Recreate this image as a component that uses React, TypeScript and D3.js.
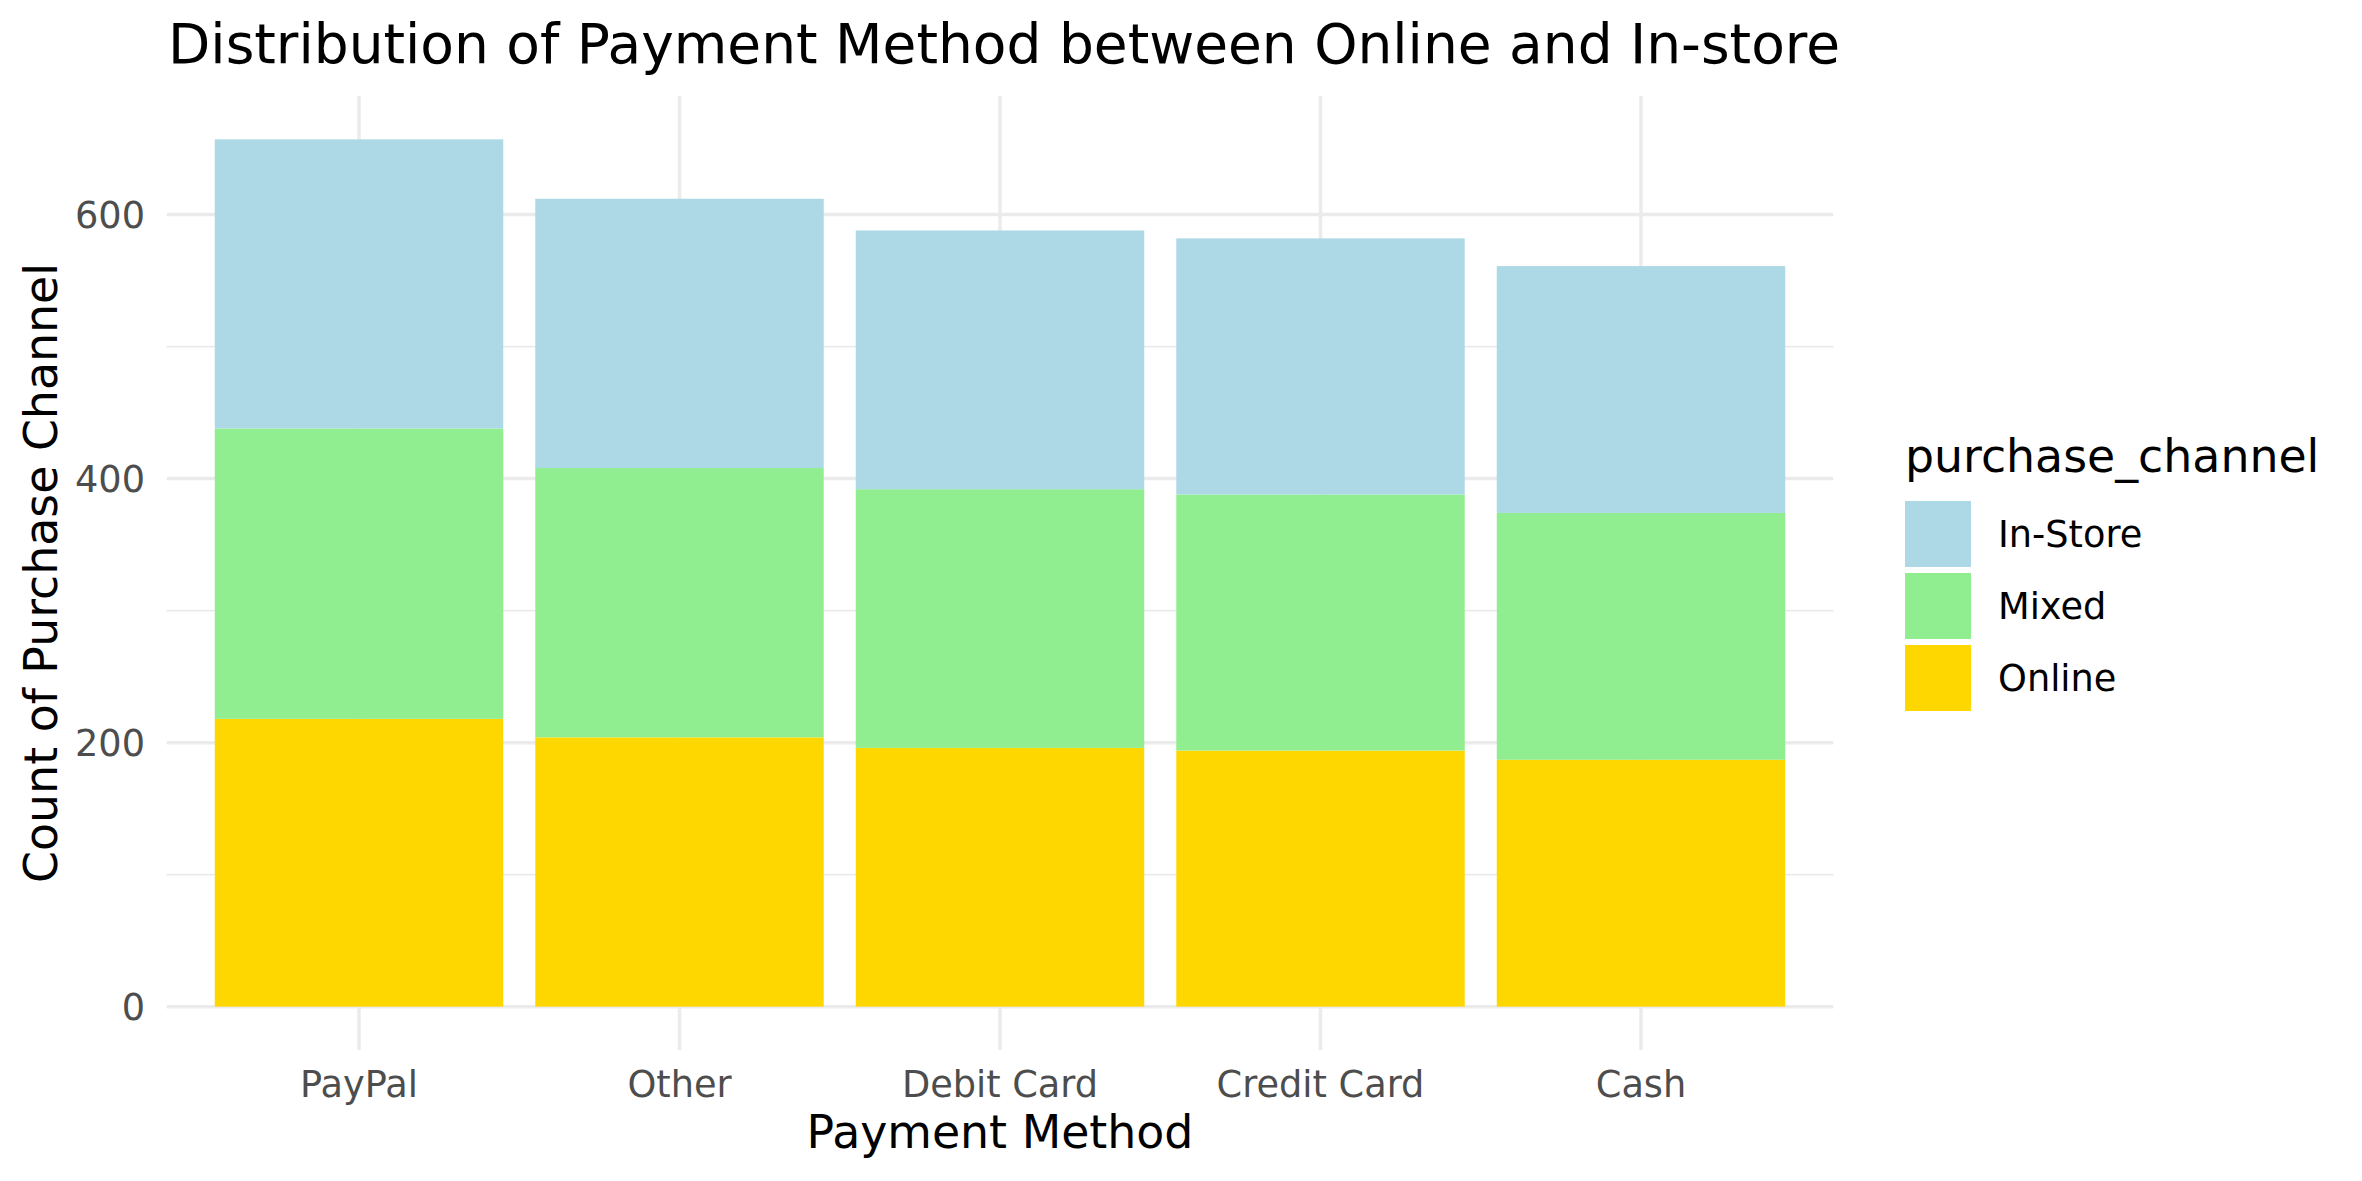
import { useRef, useEffect } from "react";
import * as d3 from "d3";

const methods = ["PayPal", "Other", "Debit Card", "Credit Card", "Cash"];
const online = [218, 204, 196, 194, 187];
const mixed = [220, 204, 196, 194, 187];
const inStore = [219, 204, 196, 194, 187];

const channels = ["Online", "Mixed", "In-Store"];
const channelColors = ["#FFD700", "#90EE90", "#ADD8E6"];
const legendOrder = ["In-Store", "Mixed", "Online"];

const yTicks = [0, 200, 400, 600];
const yMinor = [100, 300, 500];

const App = () => {
  const svgRef = useRef<SVGSVGElement>(null);

  useEffect(() => {
    const svg = d3.select(svgRef.current);
    svg.selectAll("*").remove();

    const width = 2362;
    const height = 1181;
    const left = 166.7;
    const right = 1833.3;
    const top = 96;
    const bottom = 1050;
    const font = "DejaVu Sans, sans-serif";

    const rows = methods.map((m, i) => ({
      method: m,
      Online: online[i],
      Mixed: mixed[i],
      "In-Store": inStore[i],
    }));

    const stacked = d3.stack<any>().keys(channels)(rows);
    const maxTotal = d3.max(rows, (d) => d.Online + d.Mixed + d["In-Store"]) as number;

    const x = d3
      .scaleBand()
      .domain(methods)
      .range([left, right])
      .paddingInner(0.1)
      .paddingOuter(0.15);

    const y = d3
      .scaleLinear()
      .domain([-0.05 * maxTotal, 1.05 * maxTotal])
      .range([bottom, top]);

    const color = d3.scaleOrdinal<string>().domain(channels).range(channelColors);

    svg.append("rect").attr("width", width).attr("height", height).attr("fill", "white");

    // grid
    const grid = svg.append("g");
    grid
      .selectAll(".minor")
      .data(yMinor)
      .enter()
      .append("line")
      .attr("x1", left)
      .attr("x2", right)
      .attr("y1", (d) => y(d))
      .attr("y2", (d) => y(d))
      .attr("stroke", "#EBEBEB")
      .attr("stroke-width", 1.8);

    grid
      .selectAll(".major")
      .data(yTicks)
      .enter()
      .append("line")
      .attr("x1", left)
      .attr("x2", right)
      .attr("y1", (d) => y(d))
      .attr("y2", (d) => y(d))
      .attr("stroke", "#EBEBEB")
      .attr("stroke-width", 3.5);

    grid
      .selectAll(".vmajor")
      .data(methods)
      .enter()
      .append("line")
      .attr("x1", (d) => (x(d) as number) + x.bandwidth() / 2)
      .attr("x2", (d) => (x(d) as number) + x.bandwidth() / 2)
      .attr("y1", top)
      .attr("y2", bottom)
      .attr("stroke", "#EBEBEB")
      .attr("stroke-width", 3.5);

    // bars
    svg
      .append("g")
      .selectAll("g")
      .data(stacked)
      .enter()
      .append("g")
      .attr("fill", (s) => color(s.key))
      .selectAll("rect")
      .data((s) => s)
      .enter()
      .append("rect")
      .attr("x", (d: any) => x(d.data.method) as number)
      .attr("width", x.bandwidth())
      .attr("y", (d) => y(d[1]))
      .attr("height", (d) => y(d[0]) - y(d[1]));

    // y tick labels
    svg
      .append("g")
      .selectAll("text")
      .data(yTicks)
      .enter()
      .append("text")
      .attr("x", 145)
      .attr("y", (d) => y(d))
      .attr("dy", "0.36em")
      .attr("text-anchor", "end")
      .attr("font-family", font)
      .attr("font-size", 36.7)
      .attr("fill", "#4D4D4D")
      .text((d) => d);

    // x tick labels
    svg
      .append("g")
      .selectAll("text")
      .data(methods)
      .enter()
      .append("text")
      .attr("x", (d) => (x(d) as number) + x.bandwidth() / 2)
      .attr("y", 1097)
      .attr("text-anchor", "middle")
      .attr("font-family", font)
      .attr("font-size", 36.7)
      .attr("fill", "#4D4D4D")
      .text((d) => d);

    // axis titles
    svg
      .append("text")
      .attr("x", (left + right) / 2)
      .attr("y", 1148)
      .attr("text-anchor", "middle")
      .attr("font-family", font)
      .attr("font-size", 45.8)
      .attr("fill", "black")
      .text("Payment Method");

    svg
      .append("text")
      .attr("transform", `translate(57, ${(top + bottom) / 2}) rotate(-90)`)
      .attr("text-anchor", "middle")
      .attr("font-family", font)
      .attr("font-size", 45.8)
      .attr("fill", "black")
      .text("Count of Purchase Channel");

    // title
    svg
      .append("text")
      .attr("x", 168)
      .attr("y", 63)
      .attr("font-family", font)
      .attr("font-size", 55)
      .attr("fill", "black")
      .text("Distribution of Payment Method between Online and In-store");

    // legend
    const legend = svg.append("g");
    legend
      .append("text")
      .attr("x", 1905)
      .attr("y", 472)
      .attr("font-family", font)
      .attr("font-size", 45.8)
      .attr("fill", "black")
      .text("purchase_channel");

    const items = legend
      .selectAll(".item")
      .data(legendOrder)
      .enter()
      .append("g")
      .attr("transform", (d, i) => `translate(1905, ${501 + i * 72})`);

    items
      .append("rect")
      .attr("width", 66)
      .attr("height", 66)
      .attr("fill", (d) => color(d));

    items
      .append("text")
      .attr("x", 93)
      .attr("y", 46)
      .attr("font-family", font)
      .attr("font-size", 36.7)
      .attr("fill", "black")
      .text((d) => d);
  }, []);

  return (
    <svg
      ref={svgRef}
      width={2362}
      height={1181}
      style={{ position: "absolute", top: 0, left: 0, display: "block" }}
    />
  );
};

export default App;
